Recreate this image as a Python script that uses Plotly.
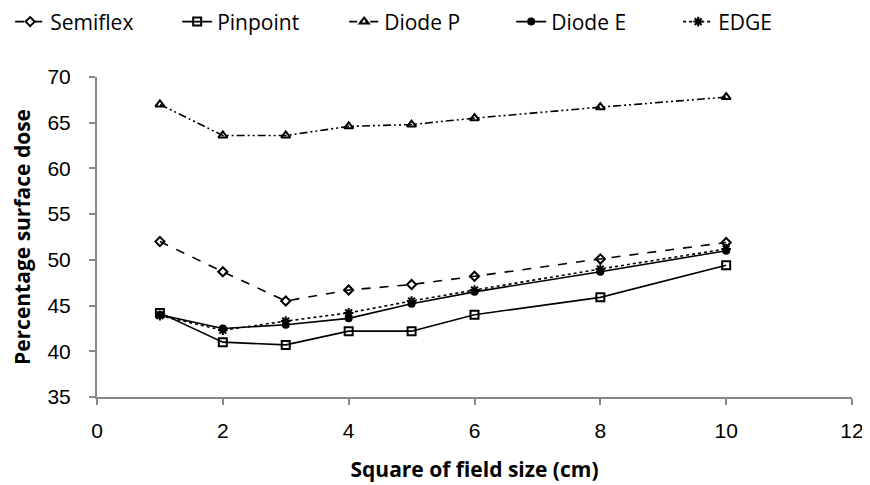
import plotly.graph_objects as go


# --------------------------------------------------
# DATA
# --------------------------------------------------

field_size = [1, 2, 3, 4, 5, 6, 8, 10]

semiflex = [52.0, 48.7, 45.5, 46.7, 47.3, 48.2, 50.1, 51.9]
pinpoint = [44.2, 41.0, 40.7, 42.2, 42.2, 44.0, 45.9, 49.4]
diode_p = [67.0, 63.6, 63.6, 64.6, 64.8, 65.5, 66.7, 67.8]
diode_e = [44.0, 42.5, 42.9, 43.6, 45.2, 46.5, 48.7, 51.0]
edge = [43.9, 42.3, 43.3, 44.2, 45.5, 46.7, 49.0, 51.2]

x_ticks = [0, 2, 4, 6, 8, 10, 12]
y_ticks = [35, 40, 45, 50, 55, 60, 65, 70]


# --------------------------------------------------
# SERIES
# --------------------------------------------------

series = [
    ("Semiflex", semiflex, "dash", "diamond-open", 7),
    ("Pinpoint", pinpoint, "solid", "square-open", 8),
    ("Diode P", diode_p, "8px,3px,2px,3px,2px,3px", "triangle-up-open", 8),
    ("Diode E", diode_e, "solid", "circle", 6),
    ("EDGE", edge, "dot", "asterisk-open", 8),
]

fig = go.Figure()

for name, values, dash, symbol, size in series:

    fig.add_trace(

        go.Scatter(

            x=field_size,

            y=values,

            mode="lines+markers",

            name=name,

            line=dict(color="black", width=1.6, dash=dash),

            marker=dict(
                symbol=symbol,
                size=size,
                color="black",
                line=dict(color="black", width=2)
            )

        )

    )


# --------------------------------------------------
# LAYOUT
# (page has an 8px body margin, so figure is 862x477)
# --------------------------------------------------

fig.update_layout(

    width=862,

    height=477,

    paper_bgcolor="white",

    plot_bgcolor="white",

    margin=dict(l=89, r=18, t=69, b=88, autoexpand=False),

    font=dict(family="Liberation Sans", color="black"),

    legend=dict(
        orientation="h",
        x=-0.115,
        xanchor="left",
        y=1.172,
        yanchor="middle",
        font=dict(family="Open Sans", size=21),
        entrywidth=122,
        tracegroupgap=0
    ),

    showlegend=True

)

fig.update_xaxes(
    range=[0, 12],
    tickvals=x_ticks,
    showgrid=False,
    zeroline=False,
    showline=True,
    linecolor="#888888",
    linewidth=2,
    ticks="outside",
    tickcolor="#888888",
    ticklen=6,
    tickwidth=2,
    ticklabelstandoff=8,
    tickfont=dict(size=21),
    automargin=False,
    title=dict(
        text="<b>Square of field size (cm)</b>",
        font=dict(size=21, family="Open Sans"),
        standoff=21
    )
)

fig.update_yaxes(
    range=[35, 70],
    tickvals=y_ticks,
    showgrid=False,
    zeroline=False,
    showline=True,
    linecolor="#888888",
    linewidth=2,
    ticks="outside",
    tickcolor="#888888",
    ticklen=6,
    tickwidth=2,
    ticklabelstandoff=14,
    tickfont=dict(size=21),
    automargin=False,
    title=dict(
        text="<b>Percentage surface dose</b>",
        font=dict(size=21, family="Open Sans"),
        standoff=32
    )
)

fig.write_html("out.html")
